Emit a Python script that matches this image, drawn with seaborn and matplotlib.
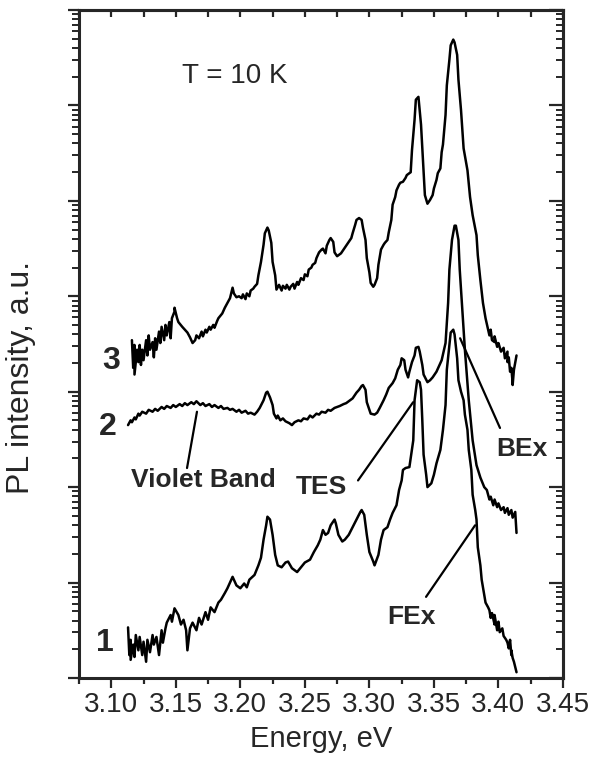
import numpy as np
import pandas as pd
import matplotlib
matplotlib.use("Agg")
import matplotlib.pyplot as plt
import seaborn as sns
from matplotlib.ticker import MultipleLocator, LogLocator, NullFormatter

sns.set_style("ticks")
plt.rcParams["font.family"] = ["Liberation Sans", "DejaVu Sans"]

# ---------------- data (energy in eV, log10 of PL intensity in a.u.) ----------------
curve1_energy = [3.113,3.114,3.115,3.115,3.117,3.118,3.119,3.121,3.122,3.124,
 3.125,3.127,3.128,3.130,3.132,3.133,3.135,3.137,3.139,3.140,
 3.142,3.143,3.146,3.147,3.149,3.152,3.154,3.156,3.158,3.159,
 3.161,3.163,3.166,3.168,3.170,3.173,3.175,3.177,3.180,3.183,
 3.185,3.188,3.190,3.193,3.194,3.197,3.200,3.203,3.205,3.207,
 3.211,3.214,3.216,3.218,3.220,3.221,3.223,3.225,3.227,3.229,
 3.232,3.235,3.237,3.240,3.242,3.244,3.247,3.250,3.254,3.257,
 3.260,3.262,3.264,3.266,3.268,3.270,3.273,3.274,3.276,3.279,
 3.281,3.284,3.287,3.290,3.293,3.294,3.296,3.298,3.300,3.303,
 3.304,3.307,3.309,3.311,3.314,3.316,3.318,3.321,3.323,3.325,
 3.326,3.328,3.331,3.334,3.335,3.337,3.339,3.340,3.341,3.342,
 3.344,3.345,3.348,3.350,3.352,3.355,3.357,3.359,3.360,3.362,
 3.363,3.365,3.366,3.368,3.369,3.371,3.373,3.374,3.376,3.377,
 3.379,3.380,3.382,3.383,3.384,3.386,3.387,3.389,3.390,3.392,
 3.393,3.394,3.395,3.397,3.397,3.399,3.400,3.401,3.403,3.404,
 3.406,3.407,3.408,3.409,3.410,3.410,3.411,3.412,3.414]
curve1_log = [0.53,0.24,0.40,0.19,0.35,0.22,0.45,0.29,0.43,0.24,
 0.38,0.17,0.40,0.27,0.45,0.35,0.43,0.24,0.50,0.37,
 0.52,0.58,0.66,0.59,0.73,0.66,0.56,0.61,0.50,0.29,
 0.52,0.58,0.50,0.63,0.56,0.69,0.61,0.74,0.69,0.79,
 0.82,0.89,0.94,1.03,1.06,0.97,0.94,0.99,0.95,1.03,
 1.08,1.18,1.26,1.45,1.60,1.69,1.66,1.50,1.29,1.18,
 1.16,1.21,1.22,1.15,1.13,1.11,1.16,1.21,1.24,1.32,
 1.39,1.45,1.55,1.50,1.52,1.60,1.66,1.62,1.50,1.43,
 1.45,1.50,1.58,1.66,1.74,1.76,1.71,1.50,1.32,1.22,
 1.18,1.29,1.45,1.55,1.58,1.66,1.73,1.81,1.97,2.07,
 2.18,2.20,2.21,2.49,2.91,3.12,3.10,3.02,2.70,2.34,
 2.13,2.00,2.04,2.13,2.25,2.39,2.60,2.86,3.23,3.49,
 3.62,3.65,3.60,3.35,3.12,3.00,2.91,2.76,2.60,2.39,
 2.18,1.92,1.76,1.66,1.37,1.18,1.03,0.87,0.79,0.74,
 0.71,0.63,0.68,0.56,0.66,0.50,0.59,0.48,0.52,0.44,
 0.40,0.37,0.31,0.40,0.24,0.29,0.21,0.17,0.06]

curve2_energy = [3.113,3.115,3.116,3.118,3.119,3.121,3.122,3.124,3.127,3.129,
 3.132,3.134,3.136,3.139,3.141,3.143,3.146,3.148,3.150,3.153,
 3.155,3.157,3.159,3.162,3.164,3.166,3.169,3.171,3.173,3.176,
 3.178,3.180,3.183,3.185,3.187,3.190,3.192,3.194,3.197,3.199,
 3.201,3.204,3.206,3.208,3.211,3.213,3.215,3.218,3.220,3.221,
 3.223,3.225,3.226,3.228,3.229,3.231,3.233,3.235,3.238,3.240,
 3.242,3.245,3.247,3.249,3.252,3.254,3.256,3.259,3.261,3.263,
 3.266,3.268,3.270,3.273,3.275,3.277,3.280,3.282,3.284,3.287,
 3.289,3.290,3.292,3.294,3.295,3.297,3.298,3.300,3.301,3.304,
 3.306,3.308,3.311,3.313,3.315,3.318,3.320,3.322,3.324,3.325,
 3.327,3.328,3.330,3.331,3.333,3.335,3.336,3.338,3.339,3.341,
 3.342,3.345,3.347,3.349,3.352,3.354,3.356,3.359,3.361,3.362,
 3.364,3.366,3.367,3.369,3.370,3.372,3.374,3.377,3.380,3.383,
 3.386,3.389,3.391,3.393,3.394,3.396,3.397,3.399,3.400,3.402,
 3.404,3.405,3.407,3.408,3.410,3.411,3.413,3.414]
curve2_log = [2.65,2.70,2.68,2.73,2.71,2.77,2.75,2.79,2.77,2.81,
 2.79,2.82,2.80,2.84,2.82,2.85,2.83,2.86,2.84,2.87,
 2.85,2.88,2.86,2.89,2.87,2.90,2.86,2.88,2.85,2.87,
 2.84,2.86,2.83,2.85,2.82,2.83,2.81,2.82,2.79,2.81,
 2.78,2.80,2.77,2.78,2.76,2.79,2.83,2.91,2.99,3.00,
 2.94,2.86,2.77,2.72,2.75,2.70,2.72,2.69,2.67,2.65,
 2.68,2.70,2.69,2.72,2.71,2.75,2.73,2.77,2.76,2.79,
 2.78,2.81,2.80,2.83,2.84,2.85,2.87,2.88,2.90,2.93,
 2.97,2.99,3.02,3.06,3.07,3.02,2.89,2.81,2.77,2.76,
 2.78,2.83,2.91,2.97,3.04,3.09,3.14,3.23,3.28,3.35,
 3.33,3.23,3.15,3.21,3.31,3.38,3.46,3.47,3.42,3.28,
 3.18,3.10,3.12,3.15,3.21,3.27,3.33,3.51,3.93,4.28,
 4.59,4.74,4.74,4.59,4.28,3.86,3.44,2.91,2.49,2.23,
 2.10,2.00,1.97,1.87,1.90,1.81,1.87,1.79,1.83,1.76,
 1.79,1.73,1.78,1.71,1.76,1.68,1.74,1.52]

curve3_energy = [3.116,3.117,3.118,3.118,3.120,3.121,3.122,3.123,3.124,3.125,
 3.127,3.128,3.129,3.130,3.132,3.133,3.134,3.135,3.137,3.138,
 3.139,3.141,3.142,3.143,3.145,3.146,3.147,3.149,3.149,3.151,
 3.152,3.155,3.157,3.159,3.161,3.163,3.165,3.166,3.168,3.170,
 3.171,3.173,3.174,3.176,3.177,3.179,3.180,3.182,3.183,3.186,
 3.188,3.190,3.192,3.194,3.195,3.197,3.199,3.201,3.202,3.204,
 3.205,3.207,3.208,3.210,3.211,3.213,3.214,3.216,3.218,3.219,
 3.221,3.222,3.224,3.225,3.227,3.228,3.230,3.232,3.233,3.235,
 3.236,3.238,3.239,3.241,3.242,3.244,3.245,3.247,3.249,3.250,
 3.252,3.253,3.255,3.256,3.258,3.259,3.261,3.263,3.264,3.266,
 3.267,3.269,3.270,3.272,3.273,3.275,3.276,3.278,3.280,3.281,
 3.283,3.284,3.286,3.287,3.289,3.290,3.292,3.294,3.295,3.297,
 3.298,3.300,3.301,3.303,3.304,3.306,3.307,3.309,3.311,3.312,
 3.314,3.315,3.317,3.318,3.320,3.321,3.323,3.324,3.326,3.328,
 3.329,3.332,3.333,3.335,3.336,3.338,3.339,3.340,3.342,3.343,
 3.345,3.347,3.349,3.350,3.352,3.353,3.355,3.356,3.357,3.359,
 3.360,3.362,3.363,3.365,3.366,3.368,3.369,3.371,3.373,3.376,
 3.378,3.380,3.383,3.384,3.386,3.388,3.390,3.392,3.393,3.394,
 3.395,3.397,3.397,3.399,3.400,3.402,3.404,3.405,3.407,3.407,
 3.408,3.409,3.410,3.411,3.411,3.412,3.414]
curve3_log = [3.54,3.25,3.49,3.18,3.44,3.31,3.49,3.28,3.44,3.33,
 3.54,3.38,3.59,3.44,3.52,3.36,3.56,3.44,3.63,3.51,
 3.68,3.54,3.70,3.59,3.73,3.56,3.77,3.84,3.88,3.77,
 3.73,3.68,3.65,3.62,3.57,3.51,3.54,3.59,3.56,3.63,
 3.58,3.65,3.62,3.68,3.65,3.70,3.67,3.74,3.77,3.82,
 3.88,3.93,3.98,4.09,4.03,3.99,4.00,3.98,4.02,3.97,
 4.03,4.00,4.06,4.08,4.10,4.13,4.22,4.36,4.54,4.66,
 4.72,4.69,4.56,4.36,4.22,4.07,4.12,4.06,4.11,4.08,
 4.12,4.07,4.10,4.13,4.08,4.15,4.12,4.19,4.17,4.23,
 4.21,4.28,4.30,4.33,4.35,4.40,4.46,4.49,4.50,4.45,
 4.53,4.59,4.61,4.57,4.46,4.42,4.43,4.45,4.49,4.51,
 4.55,4.57,4.61,4.66,4.75,4.80,4.82,4.80,4.72,4.59,
 4.40,4.25,4.14,4.10,4.12,4.19,4.33,4.49,4.54,4.56,
 4.59,4.67,4.80,4.96,5.04,5.11,5.17,5.19,5.20,5.24,
 5.27,5.30,5.53,5.85,6.06,6.09,5.95,5.80,5.32,5.06,
 4.97,5.01,5.06,5.13,5.22,5.29,5.34,5.51,5.59,5.90,
 6.21,6.48,6.63,6.69,6.66,6.53,6.27,5.95,5.55,5.32,
 5.04,4.85,4.64,4.43,4.17,3.93,3.77,3.65,3.59,3.65,
 3.54,3.52,3.58,3.47,3.51,3.42,3.46,3.35,3.42,3.31,
 3.36,3.21,3.25,3.09,3.07,3.23,3.38]

curve_names = ["1", "2", "3"]
x_ticks = [3.10, 3.15, 3.20, 3.25, 3.30, 3.35, 3.40, 3.45]

# annotations: label, text position (E, log I), pointer start, pointer end
pointers = [
    ("Violet Band", (3.171, 2.07), (3.1587, 2.20), (3.1664, 2.79)),
    ("TES", (3.2626, 2.00), (3.2912, 2.07), (3.3339, 2.89)),
    ("BEx", (3.4183, 2.40), (3.4012, 2.62), (3.3703, 3.56)),
    ("FEx", (3.3323, 0.64), (3.3439, 0.85), (3.3819, 1.60)),
]
number_pos = {"1": (3.0951, 0.37), "2": (3.0975, 2.63), "3": (3.0998, 3.32)}

frames = []
for name, e, l in zip(curve_names, [curve1_energy, curve2_energy, curve3_energy],
                      [curve1_log, curve2_log, curve3_log]):
    frames.append(pd.DataFrame({"Energy": e, "Intensity": 10 ** np.array(l), "curve": name}))
df = pd.concat(frames, ignore_index=True)

# ---------------- figure ----------------
fig = plt.figure(figsize=(5.9, 7.64), dpi=100)
ax = fig.add_axes([0.1339, 0.1126, 0.8203, 0.8743])
ax.set_yscale("log")
sns.lineplot(data=df, x="Energy", y="Intensity", units="curve", estimator=None,
             sort=False, color="black", lw=1.8, ax=ax, legend=False)

ax.set_xlim(3.075, 3.45)
ax.set_ylim(1, 1e7)

ax.set_xticks(x_ticks)
ax.set_xticklabels([f"{t:.2f}" for t in x_ticks], fontsize=20)
ax.xaxis.set_minor_locator(MultipleLocator(0.025))
ax.yaxis.set_major_locator(LogLocator(base=10, numticks=20))
ax.yaxis.set_minor_locator(LogLocator(base=10, subs=np.arange(2, 10), numticks=20))
ax.yaxis.set_major_formatter(NullFormatter())
ax.yaxis.set_minor_formatter(NullFormatter())

ax.tick_params(axis="x", which="major", direction="out", length=7, width=1.6, pad=3)
ax.tick_params(axis="x", which="minor", direction="out", length=4, width=1.6)
ax.tick_params(axis="y", which="major", direction="out", length=8, width=1.6)
ax.tick_params(axis="y", which="minor", direction="out", length=5, width=1.4)
for s in ax.spines.values():
    s.set_linewidth(2.2)
    s.set_visible(True)

# mirrored (Origin style) ticks on top and right
top = ax.secondary_xaxis("top")
top.set_xticks(x_ticks)
top.xaxis.set_minor_locator(MultipleLocator(0.025))
top.tick_params(axis="x", which="both", direction="in", length=5, width=1.6, labeltop=False)
top.spines["top"].set_linewidth(2.2)
right = ax.secondary_yaxis("right")
right.yaxis.set_major_locator(LogLocator(base=10, numticks=20))
right.yaxis.set_minor_locator(LogLocator(base=10, subs=np.arange(2, 10), numticks=20))
right.yaxis.set_major_formatter(NullFormatter())
right.yaxis.set_minor_formatter(NullFormatter())
right.tick_params(axis="y", which="major", direction="in", length=10, width=1.6)
right.tick_params(axis="y", which="minor", direction="in", length=5, width=1.4)
right.spines["right"].set_linewidth(2.2)

ax.set_xlabel("Energy, eV", fontsize=21, labelpad=5)
ax.set_ylabel("PL intensity, a.u.", fontsize=23)
ax.yaxis.set_label_coords(-0.088, 0.45)

ax.text(3.1959, 10 ** 6.31, "T = 10 K", fontsize=20, ha="center", va="center")
for name, (ex, ly) in number_pos.items():
    ax.text(ex, 10 ** ly, name, fontsize=23, fontweight="bold", ha="center", va="center")
for label, (tx, ty), (sx, sy), (px, py) in pointers:
    ax.annotate("", xy=(px, 10 ** py), xytext=(sx, 10 ** sy),
                arrowprops=dict(arrowstyle="-", lw=1.6, color="black", shrinkA=0, shrinkB=0))
    ax.text(tx, 10 ** ty, label, fontsize=19, fontweight="bold", ha="center", va="center")

fig.savefig("out.png", dpi=100)
